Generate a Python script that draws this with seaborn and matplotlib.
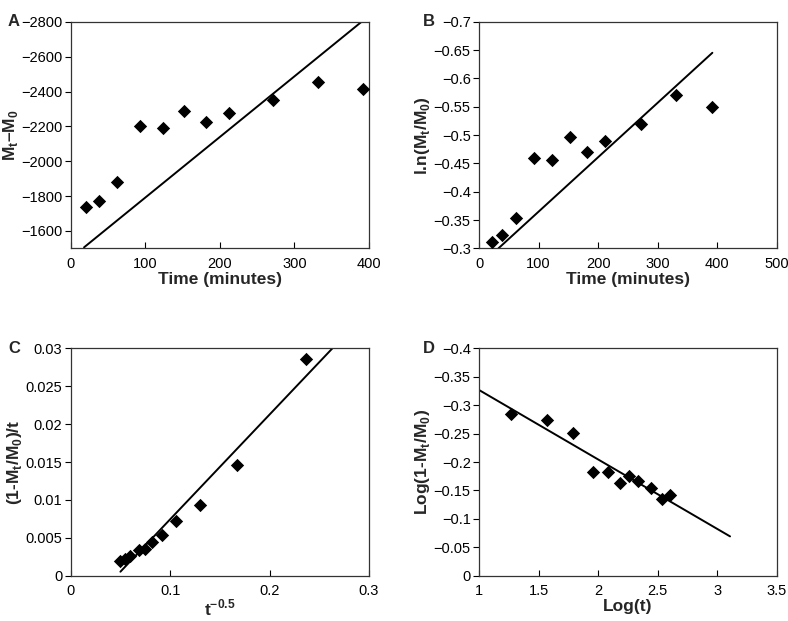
import matplotlib
matplotlib.use("Agg")
import matplotlib.pyplot as plt
import seaborn as sns
import pandas as pd
from matplotlib.ticker import FuncFormatter, MultipleLocator

# Dados
# Painel A: Mt - M0 vs tempo
time_a = [20.6, 38.4, 62.1, 92.5, 123.8, 151.5, 181.9, 212.7, 271.3, 331.2, 392.0]
mt_m0 = [-1738, -1772, -1881, -2200, -2192, -2290, -2227, -2275, -2349, -2456, -2412]
fit_a_x = [17.9, 390.0]
fit_a_y = [-1506, -2800]

# Painel B: ln(Mt/M0) vs tempo
time_b = [21.3, 38.1, 62.2, 92.4, 122.6, 152.3, 181.4, 211.7, 271.6, 331.5, 391.9]
ln_ratio = [-0.312, -0.3235, -0.353, -0.4594, -0.4565, -0.497, -0.4706, -0.4894, -0.520, -0.5706, -0.5488]
fit_b_x = [32.5, 391.9]
fit_b_y = [-0.300, -0.6453]

# Painel C: (1-Mt/M0)/t vs t^-0.5
t_inv_sqrt = [0.0500, 0.0546, 0.0600, 0.0690, 0.0750, 0.0818, 0.0915, 0.1056, 0.1297, 0.1673, 0.2367]
frac_rate = [0.00189, 0.00224, 0.00255, 0.00334, 0.00356, 0.00449, 0.00532, 0.00726, 0.00937, 0.01465, 0.02859]
fit_c_x = [0.0500, 0.2632]
fit_c_y = [0.00053, 0.0300]

# Painel D: log(1-Mt/M0) vs log(t)
log_t = [1.266, 1.571, 1.792, 1.960, 2.086, 2.184, 2.262, 2.338, 2.442, 2.534, 2.604]
log_frac = [-0.2845, -0.2745, -0.2504, -0.1819, -0.1819, -0.1636, -0.1759, -0.1671, -0.1537, -0.1344, -0.1420]
fit_d_x = [1.0, 3.108]
fit_d_y = [-0.3267, -0.0692]

sns.set_style("white")
plt.rcParams['font.family'] = ['Liberation Sans', 'DejaVu Sans']
plt.rcParams['mathtext.fontset'] = 'custom'
plt.rcParams['mathtext.rm'] = 'Liberation Sans:bold'
plt.rcParams['mathtext.bf'] = 'Liberation Sans:bold'
plt.rcParams['axes.unicode_minus'] = True

fig = plt.figure(figsize=(7.88, 6.21), dpi=100)
fig.patch.set_facecolor('white')

fmt = FuncFormatter(lambda v, p: ('{:g}'.format(round(v, 6))).replace('-', '\u2212'))

panels = [
    # pos, x, y, fx, fy, xlim, ylim, xstep, ystep, xlabel, ylabel, letter, xpad
    ([0.0897, 0.600, 0.3786, 0.3649], time_a, mt_m0, fit_a_x, fit_a_y,
     (0, 400), (-1500, -2800), 100, 200, 'Time (minutes)', 'M$_\\mathbf{t}$\u2013M$_\\mathbf{0}$', 'A', 1),
    ([0.6079, 0.600, 0.3778, 0.3649], time_b, ln_ratio, fit_b_x, fit_b_y,
     (0, 500), (-0.3, -0.7), 100, 0.05, 'Time (minutes)', 'l.n(M$_\\mathbf{t}$/M$_\\mathbf{0}$)', 'B', 1),
    ([0.0897, 0.0729, 0.3786, 0.3662], t_inv_sqrt, frac_rate, fit_c_x, fit_c_y,
     (0, 0.3), (0, 0.03), 0.1, 0.005, 't$^\\mathbf{-0.5}$', '(1-M$_\\mathbf{t}$/M$_\\mathbf{0}$)/t', 'C', 0),
    ([0.6079, 0.0729, 0.3778, 0.3662], log_t, log_frac, fit_d_x, fit_d_y,
     (1, 3.5), (0, -0.4), 0.5, 0.05, 'Log(t)', 'Log(1-M$_\\mathbf{t}$/M$_\\mathbf{0}$)', 'D', 1),
]

for pos, x, y, fx, fy, xlim, ylim, xs, ys, xl, yl, letter, xpad in panels:
    ax = fig.add_axes(pos)
    pts = pd.DataFrame({"x": x, "y": y})
    fit = pd.DataFrame({"x": fx, "y": fy})
    sns.lineplot(data=fit, x="x", y="y", color='black', linewidth=1.4, sort=False, ax=ax)
    sns.scatterplot(data=pts, x="x", y="y", marker='D', s=46, color='black',
                    edgecolor='black', linewidth=0, ax=ax, zorder=3)
    ax.set_xlim(*xlim)
    ax.set_ylim(*ylim)
    ax.xaxis.set_major_locator(MultipleLocator(xs))
    ax.yaxis.set_major_locator(MultipleLocator(ys))
    ax.xaxis.set_major_formatter(fmt)
    ax.yaxis.set_major_formatter(fmt)
    ax.tick_params(axis='x', direction='in', length=4, width=0.8, labelsize=10.5, pad=6, colors='black', bottom=True)
    ax.tick_params(axis='y', direction='out', length=4, width=0.8, labelsize=10.5, pad=2, colors='black', left=True)
    for sp in ax.spines.values():
        sp.set_visible(True)
        sp.set_color('#333333')
        sp.set_linewidth(0.9)
    ax.set_xlabel(xl, fontsize=12.5, fontweight='bold', labelpad=xpad)
    ax.set_ylabel(yl, fontsize=12.5, fontweight='bold', labelpad=1)
    ax.text(-0.21 if letter in 'AC' else -0.19, 1.0, letter, transform=ax.transAxes,
            fontsize=12, fontweight='bold', ha='left', va='center')

plt.savefig("out.png", dpi=100, facecolor='white')
